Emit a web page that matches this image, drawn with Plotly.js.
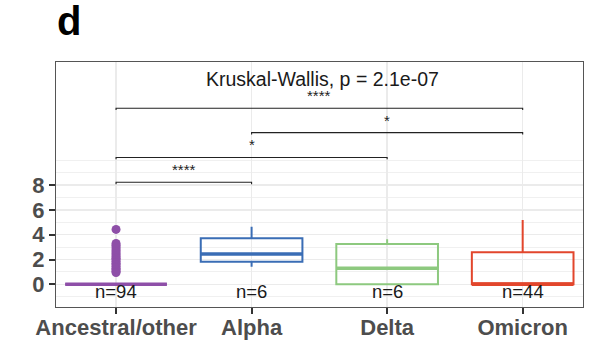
<!DOCTYPE html>
<html>
<head>
<meta charset="utf-8">
<script src="https://cdn.plot.ly/plotly-3.0.1.min.js"></script>
<style>
  html, body { margin: 0; padding: 0; background: #ffffff; }
  #chart { width: 595px; height: 341px; }
</style>
</head>
<body>
<div id="chart"></div>
<script>
// Variant groups and their colours
const categories = ['Ancestral/other', 'Alpha', 'Delta', 'Omicron'];
const colors = ['#8E4FA8', '#3A6DB5', '#8DC97F', '#E2462C'];
const counts = [94, 6, 6, 44];

// Box summary statistics per group
const q1Vals     = [0,    1.82, 0,    0];
const medianVals = [0,    2.44, 1.29, 0];
const q3Vals     = [0,    3.71, 3.25, 2.58];
const lowerVals  = [0,    1.42, 0,    0];
const upperVals  = [0,    4.65, 3.63, 5.19];

// Outlying observations of the Ancestral/other group
const ancestralOutliers = [0.95, 1.05, 1.2, 1.3, 1.45, 1.6, 1.7, 1.85, 2.0, 2.1,
                           2.25, 2.4, 2.55, 2.7, 2.85, 3.0, 3.15, 3.3, 4.43];

// Pairwise comparisons (group indices), bracket heights and significance
const pairFrom   = [0, 0, 1, 0];
const pairTo     = [1, 2, 3, 3];
const pairY      = [8.23, 10.23, 12.23, 14.2];
const pairLabels = ['****', '*', '*', '****'];

const testLabel = 'Kruskal-Wallis, p = 2.1e-07';
const yTicks = [0, 2, 4, 6, 8];

const FONT = 'Liberation Sans, Arial, sans-serif';
const positions = categories.map((_, i) => i);
const boxWidth = 0.75;
const traces = [];

categories.forEach((cat, i) => {
  traces.push({
    type: 'box',
    x: [i],
    q1: [q1Vals[i]],
    median: [medianVals[i]],
    q3: [q3Vals[i]],
    lowerfence: [lowerVals[i]],
    upperfence: [upperVals[i]],
    width: boxWidth,
    whiskerwidth: 0,
    boxpoints: false,
    fillcolor: 'rgba(255,255,255,0)',
    line: { color: colors[i], width: 2 },
    hoverinfo: 'skip',
    showlegend: false
  });
  // thicker median bar
  traces.push({
    type: 'scatter',
    mode: 'lines',
    x: [i - boxWidth / 2, i + boxWidth / 2],
    y: [medianVals[i], medianVals[i]],
    line: { color: colors[i], width: 3.5 },
    hoverinfo: 'skip',
    showlegend: false
  });
});

traces.push({
  type: 'scatter',
  mode: 'markers',
  x: ancestralOutliers.map(() => 0),
  y: ancestralOutliers,
  marker: { color: colors[0], size: 9 },
  hoverinfo: 'skip',
  showlegend: false
});

// Significance brackets
const tickDrop = 0.15;
pairFrom.forEach((a, k) => {
  const b = pairTo[k];
  const y = pairY[k];
  traces.push({
    type: 'scatter',
    mode: 'lines',
    x: [a, a, b, b],
    y: [y - tickDrop, y, y, y - tickDrop],
    line: { color: '#222222', width: 1.1 },
    hoverinfo: 'skip',
    showlegend: false
  });
});

const annotations = [];
pairFrom.forEach((a, k) => {
  annotations.push({
    x: (a + pairTo[k]) / 2, y: pairY[k],
    xref: 'x', yref: 'y',
    text: pairLabels[k],
    showarrow: false,
    yanchor: 'bottom',
    yshift: 3,
    borderpad: 0,
    font: { family: FONT, size: 15, color: '#222222' }
  });
});

counts.forEach((n, i) => {
  annotations.push({
    x: i, y: -0.55,
    xref: 'x', yref: 'y',
    text: 'n=' + n,
    showarrow: false,
    yanchor: 'middle',
    font: { family: FONT, size: 18.5, color: '#1a1a1a' }
  });
});

// test result across the top of the panel
annotations.push({
  x: 0.505, y: 1, xref: 'paper', yref: 'paper',
  yanchor: 'middle', yshift: -17,
  borderpad: 0,
  text: testLabel, showarrow: false,
  font: { family: FONT, size: 19.5, color: '#1a1a1a' }
});

// panel tag
annotations.push({
  x: 0, y: 1, xref: 'paper', yref: 'paper',
  xanchor: 'left', yanchor: 'bottom', xshift: -1, yshift: 17,
  text: 'd', showarrow: false,
  font: { family: FONT, size: 40, color: '#000000', weight: 'bold' }
});

const tickFont = { family: FONT, size: 22, color: '#4D4D4D', weight: 'bold' };

const layout = {
  width: 595,
  height: 341,
  margin: { l: 56, r: 12, t: 62, b: 34 },
  paper_bgcolor: '#ffffff',
  plot_bgcolor: '#ffffff',
  showlegend: false,
  xaxis: {
    range: [-0.443, 3.445],
    tickmode: 'array',
    tickvals: positions,
    ticktext: categories,
    showgrid: true,
    gridcolor: '#EBEBEB',
    gridwidth: 1.5,
    zeroline: false,
    showline: true,
    mirror: true,
    linecolor: '#555555',
    linewidth: 1.2,
    ticks: 'outside',
    ticklen: 6,
    tickwidth: 2,
    tickcolor: '#333333',
    ticklabelstandoff: -6,
    tickfont: tickFont
  },
  yaxis: {
    range: [-1.83, 17.93],
    tickmode: 'array',
    tickvals: yTicks,
    ticktext: yTicks.map(String),
    showgrid: true,
    gridcolor: '#EBEBEB',
    gridwidth: 1.5,
    minor: {
      tickmode: 'array',
      tickvals: [-1, 1, 3, 5, 7, 9, 10],
      showgrid: true,
      gridcolor: '#F0F0F0',
      gridwidth: 1,
      ticks: ''
    },
    zeroline: false,
    showline: true,
    mirror: true,
    linecolor: '#555555',
    linewidth: 1.2,
    ticks: 'outside',
    ticklen: 6,
    tickwidth: 2,
    tickcolor: '#333333',
    tickfont: tickFont
  },
  annotations: annotations
};

Plotly.newPlot('chart', traces, layout, { staticPlot: true, displayModeBar: false });
</script>
</body>
</html>
